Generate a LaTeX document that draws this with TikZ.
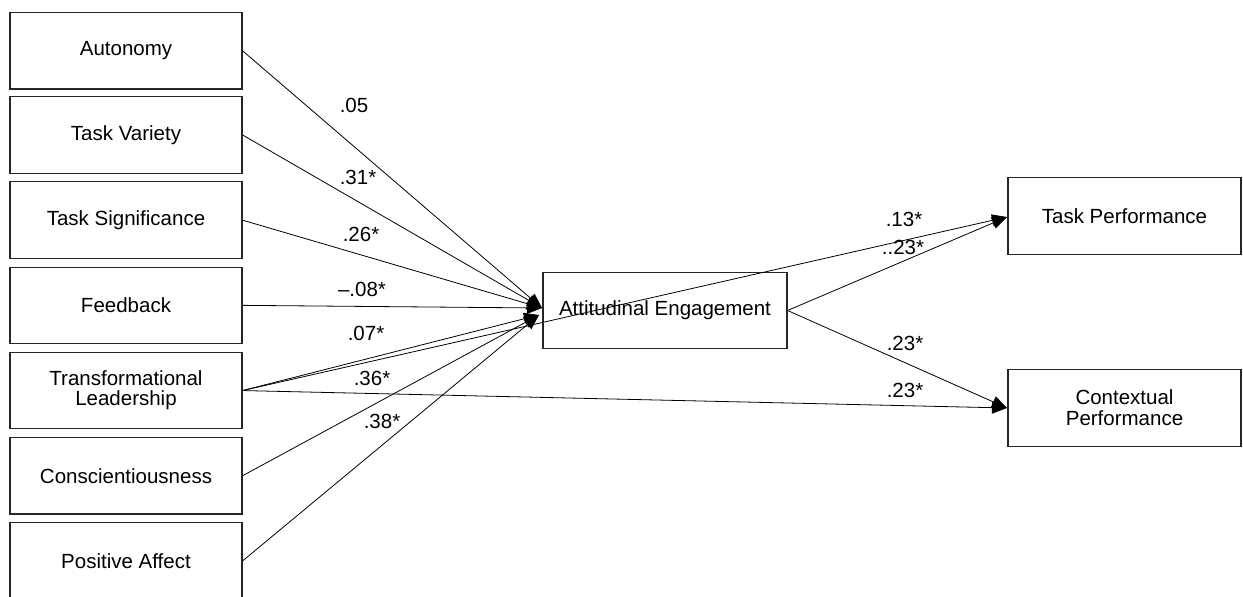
\documentclass[tikz,border=0pt]{standalone}
\usepackage{fontspec}
\setmainfont{Liberation Sans}
\usetikzlibrary{arrows.meta}
\begin{document}
\begin{tikzpicture}[x=1pt,y=-1pt,
  every node/.style={font=\fontsize{20.5}{24}\selectfont},
  var/.style={draw=black!85,line width=1.1pt,minimum width=232pt,minimum height=76.5pt,inner sep=0pt,align=center},
  path/.style={draw=black,line width=0.8pt,-{Triangle[length=15pt,width=12pt]}},
  coef/.style={inner sep=0pt,anchor=center}]
\useasboundingbox (0,0) rectangle (1243,597);
\clip (0,0) rectangle (1243,597);

% predictors
\node[var] (aut) at (126,50.75) {Autonomy};
\node[var] (tv)  at (126,134.95) {Task Variety};
\node[var] (ts)  at (126,220.15) {Task Significance};
\node[var] (fb)  at (126,305.35) {Feedback};
\node[var] (tl)  at (126,390.55) {Transformational\\[-4pt]Leadership};
\node[var] (con) at (126,475.75) {Conscientiousness};
\node[var] (pa)  at (126,560.95) {Positive Affect};

% mediator and outcomes
\node[var,minimum width=244pt] (ae) at (665,310.5) {Attitudinal Engagement};
\node[var,minimum width=233pt] (tp) at (1124.5,216) {Task Performance};
\node[var,minimum width=233pt] (cp) at (1124.5,408) {Contextual\\[-3pt]Performance};

% arrow end points
\coordinate (aeU) at (542,308);
\coordinate (aeL) at (539,315);
\coordinate (tpW) at (1007,217);
\coordinate (cpW) at (1007,408);

\draw[path] (aut.east) -- (aeU);
\draw[path] (tv.east) -- (aeU);
\draw[path] (ts.east) -- (aeU);
\draw[path] (fb.east) -- (aeU);
\draw[path] (tl.east) -- (aeL);
\draw[path] (con.east) -- (aeL);
\draw[path] (pa.east) -- (aeL);
\draw[path] (tl.east) -- (tpW);
\draw[path] (tl.east) -- (cpW);
\draw[path] (ae.east) -- (tpW);
\draw[path] (ae.east) -- (cpW);

% path coefficients
\node[coef] (c1) at (354,105) {.05};
\node[coef] (c2) at (358,177) {.31*};
\node[coef] (c3) at (361,234) {.26*};
\node[coef] (c4) at (362,289) {–.08*};
\node[coef] (c5) at (366,333) {.07*};
\node[coef] (c6) at (372,378) {.36*};
\node[coef] (c7) at (382,421) {.38*};
\node[coef] (c8) at (904,219) {.13*};
\node[coef] (c9) at (903,247) {..23*};
\node[coef] (c10) at (905,343) {.23*};
\node[coef] (c11) at (905,390) {.23*};
\end{tikzpicture}
\end{document}
